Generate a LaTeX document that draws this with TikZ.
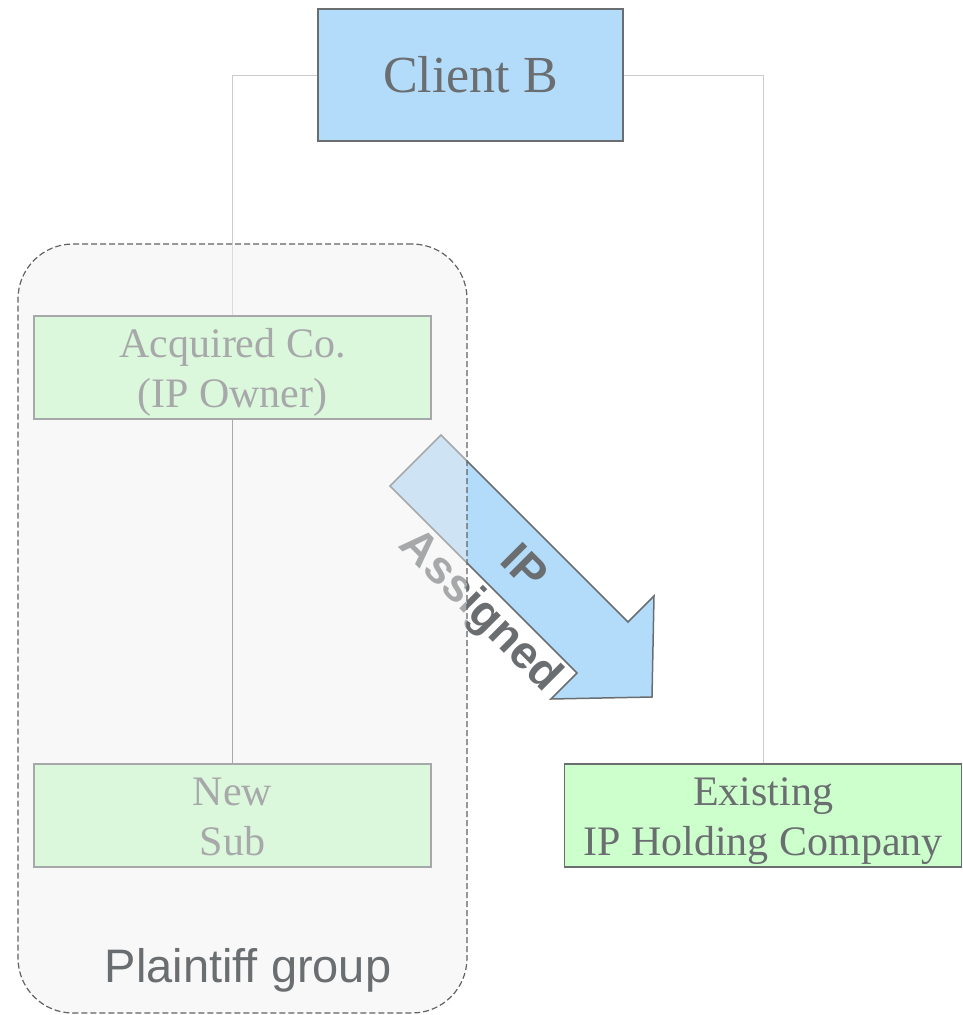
\documentclass[tikz,border=0pt]{standalone}
\usepackage{fontspec}
\setmainfont{Liberation Serif}
\setsansfont{Liberation Sans}
\usepackage{tikz}
\usetikzlibrary{shapes,arrows}

\definecolor{textgray}{RGB}{107,110,112}
\definecolor{boxblue}{RGB}{179,219,250}
\definecolor{boxgreen}{RGB}{204,255,204}
\definecolor{wiregray}{RGB}{204,204,204}

\begin{document}
\begin{tikzpicture}[x=1pt,y=-1pt]
        % Client B and the IP assignment out of the plaintiff group
        \tikzstyle{block} = [draw=textgray,line width=1.5pt,rectangle,text=textgray,align=center,inner sep=0pt];
        \tikzstyle{company} = [block,fill=boxgreen,minimum width=397pt,minimum height=103pt,text height=89pt,text depth=9pt,font=\fontsize{42}{50}\selectfont];
        \tikzstyle{wire} = [draw=wiregray,line width=1pt];

        \useasboundingbox (0,0) rectangle (963,1015);

        \node[block,fill=boxblue,minimum width=305pt,minimum height=132pt,font=\fontsize{52}{60}\selectfont] (clientb) at (470.5,75) {Client B};
        \node[company] (acquired) at (232.5,367.5) {Acquired Co.\\(IP Owner)};
        \node[company] (newsub) at (232.5,815.5) {New\\Sub};
        \node[company] (existing) at (763,815.5) {Existing\\IP Holding Company};

        \draw[wire] (clientb.west) -| (acquired.north);
        \draw[wire] (clientb.east) -| (existing.north);
        \draw[draw=textgray,line width=1.2pt] (acquired) -- (newsub);

        \draw[draw=textgray,line width=1.5pt,fill=boxblue,line join=miter]
            (441,435) -- (628,622) -- (654,596) -- (652,697) -- (551,699) -- (577,673) -- (390,486) -- cycle;
        \node[rotate=-45,text=textgray,align=center,font=\sffamily\bfseries\fontsize{46}{60}\selectfont] (assigned) at (500,591) {IP\\Assigned};

        \node[draw=textgray!90!black,line width=1.2pt,dash pattern=on 6pt off 3pt,rounded corners=55pt,fill=gray!12,fill opacity=0.45,minimum width=449pt,minimum height=769pt] (plaintiff) at (242.5,628.5) {};
        \node[text=textgray,font=\sffamily\fontsize{47}{56}\selectfont] (grouplabel) at (248,970) {Plaintiff group};

    \end{tikzpicture}
\end{document}
